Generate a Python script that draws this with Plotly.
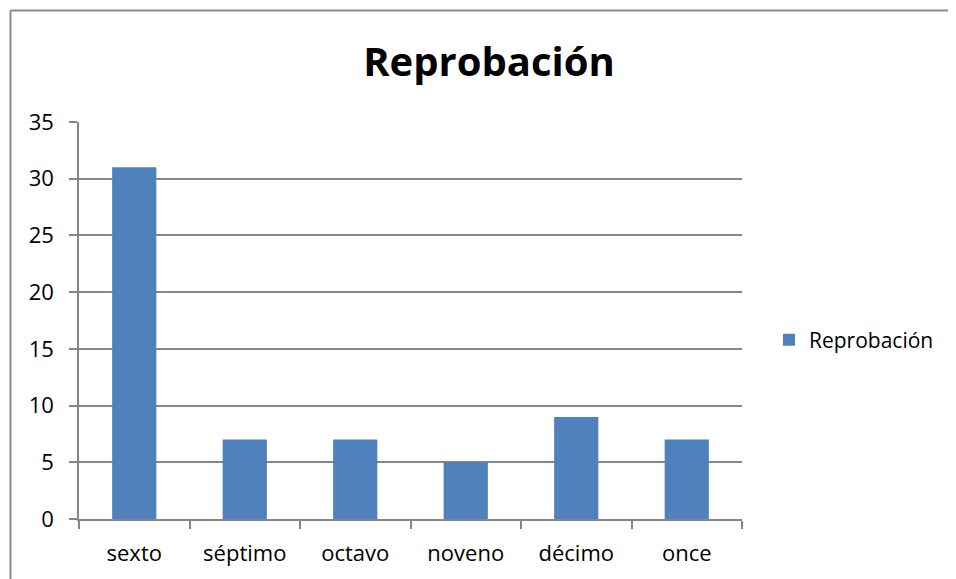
import plotly.graph_objects as go

categories = ["sexto", "séptimo", "octavo", "noveno", "décimo", "once"]
values = [31, 7, 7, 5, 9, 7]
series_name = "Reprobación"
title_text = "Reprobación"
y_ticks = [0, 5, 10, 15, 20, 25, 30, 35]

OFF = 8  # page body margin
W, H = 956 - OFF, 579 - OFF
L, T = 79 - OFF, 122 - OFF
pw, ph = 663, 397
R, B = W - L - pw, H - T - ph

def px_x(x):
    return (x - OFF - L) / pw

def px_y(y):
    return (T + ph - (y - OFF)) / ph

FONT = "Open Sans"
GRID = "#868686"
BAR = "#4F81BD"

fig = go.Figure()
fig.add_trace(go.Bar(x=categories, y=values, name=series_name,
                     marker=dict(color=BAR, line=dict(width=0)),
                     showlegend=True))

fig.update_layout(
    width=W, height=H,
    margin=dict(l=L, r=R, t=T, b=B, pad=0),
    paper_bgcolor="white", plot_bgcolor="white",
    bargap=0.6,
    font=dict(family=FONT, size=22, color="#000000"),
    title=dict(text="<b>" + title_text + "</b>", x=px_x(489), xref="paper",
               y=1 - (62 - OFF) / H, yref="container", xanchor="center", yanchor="middle",
               font=dict(family=FONT, size=40, color="#000000")),
    showlegend=True,
    legend=dict(x=px_x(769), y=px_y(340), xanchor="left", yanchor="middle",
                font=dict(family=FONT, size=21), bgcolor="rgba(0,0,0,0)",
                itemwidth=30, traceorder="normal"),
    xaxis=dict(type="category", showline=True, linecolor=GRID, linewidth=1.5,
               ticks="outside", ticklen=8, tickcolor=GRID, tickwidth=1.5,
               tickson="boundaries", showgrid=False, ticklabelstandoff=14,
               tickfont=dict(family=FONT, size=22), range=[-0.5, 5.5]),
    yaxis=dict(range=[0, 35], tickvals=y_ticks, showline=True, linecolor=GRID,
               linewidth=1.5, ticks="outside", ticklen=8, tickcolor=GRID,
               tickwidth=1.5, showgrid=True, gridcolor=GRID, gridwidth=1.5,
               zeroline=False, ticklabelstandoff=11,
               tickfont=dict(family=FONT, size=22)),
)

# Outer chart frame (only top and left edges are visible in the view)
frame = dict(color="#8C8C8C", width=2)
fig.add_shape(type="line", xref="paper", yref="paper",
              x0=px_x(10.5), x1=px_x(1100), y0=px_y(10.5), y1=px_y(10.5), line=frame)
fig.add_shape(type="line", xref="paper", yref="paper",
              x0=px_x(10.5), x1=px_x(10.5), y0=px_y(10.5), y1=px_y(700), line=frame)

fig.write_html("out.html", config={"displayModeBar": False})
